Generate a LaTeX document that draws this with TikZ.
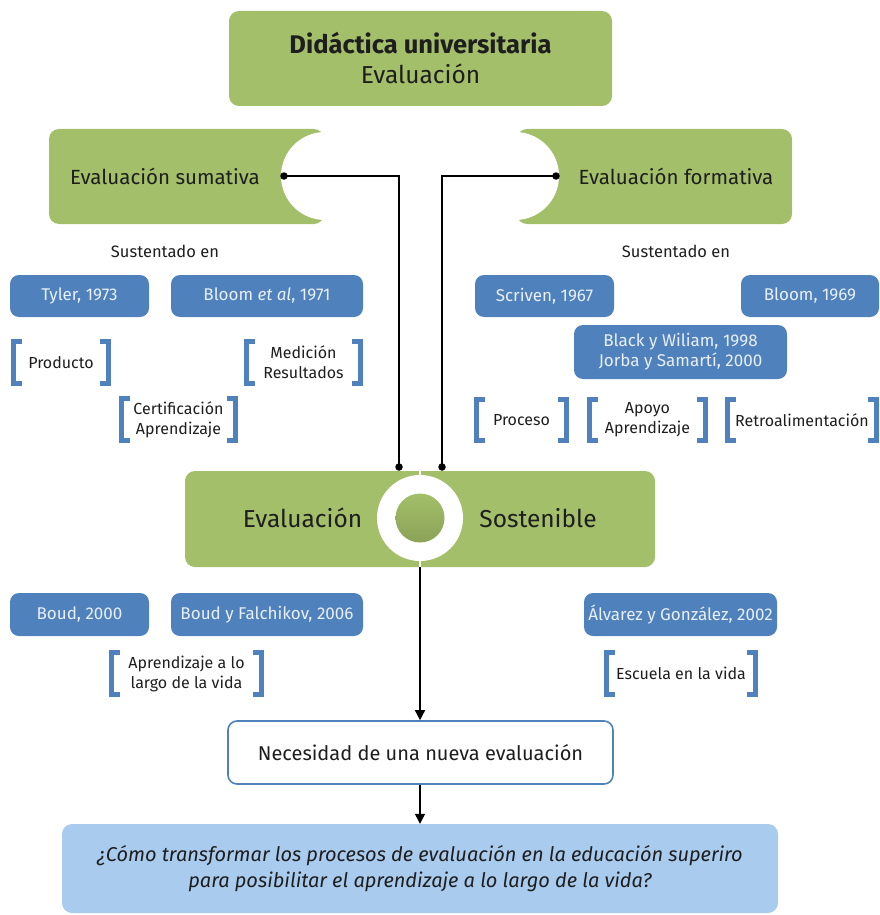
\documentclass[tikz,border=0pt]{standalone}
\usepackage{fontspec}
\setmainfont{Fira Sans}
\usetikzlibrary{arrows.meta}
\definecolor{grn}{HTML}{A3BF69}
\definecolor{dgrn}{HTML}{8BA257}
\definecolor{blu}{HTML}{4F81BD}
\definecolor{lblu}{HTML}{A9CBEE}
\definecolor{txt}{HTML}{1E1E1E}
\definecolor{wtxt}{HTML}{E9EFF7}
\newcommand\mybrk[1]{%
  \draw[brline] ([xshift=8pt]#1.north west) -- (#1.north west) -- (#1.south west) -- ([xshift=8pt]#1.south west);
  \draw[brline] ([xshift=-8pt]#1.north east) -- (#1.north east) -- (#1.south east) -- ([xshift=-8pt]#1.south east);}
\begin{document}
\begin{tikzpicture}[x=1pt,y=-1pt,
  greenbox/.style={fill=grn, rounded corners=10pt, inner sep=0, draw=none},
  bluebox/.style={fill=blu, rounded corners=9pt, text=wtxt, inner sep=0, align=center,
    font=\fontsize{17pt}{20pt}\selectfont, minimum height=42},
  brtext/.style={inner sep=0, align=center, text=txt, font=\fontsize{16pt}{20pt}\selectfont, minimum height=41},
  brline/.style={draw=blu, line width=5pt, line join=miter},
  bigtxt/.style={text=txt, font=\fontsize{20.5pt}{26pt}\selectfont, inner sep=0},
  small/.style={text=txt, font=\fontsize{16.5pt}{20pt}\selectfont, inner sep=0},
  conn/.style={draw=black, line width=1.4pt},
  arr/.style={conn, -{Triangle[length=10pt,width=10pt]}},
  dot/.style={circle, fill=black, inner sep=0, minimum size=7.5pt}
]
\useasboundingbox (0,0) rectangle (880,915);

% top box
\node[greenbox, minimum width=383, minimum height=95, align=center, text=txt,
  font=\fontsize{24.5pt}{30pt}\selectfont] (top) at (420.5,58.5)
  {{\fontsize{25.5pt}{30pt}\selectfont\textbf{Didáctica universitaria}}\\Evaluación};

% sumativa / formativa
\node[greenbox, minimum width=275, minimum height=95] (sumbox) at (186.5,176.5) {};
\fill[white] (325,176) circle (44);
\node[bigtxt] (sumtxt) at (165,176) {Evaluación sumativa};
\node[greenbox, minimum width=275, minimum height=95] (forbox) at (654.5,176.5) {};
\fill[white] (515,176) circle (44);
\node[bigtxt] (fortxt) at (676,176) {Evaluación formativa};

\node[small] (sus1) at (165,251) {Sustentado en};
\node[small] (sus2) at (676,251) {Sustentado en};

% blue references
\node[bluebox, minimum width=139] (tyler) at (79.5,296) {Tyler, 1973};
\node[bluebox, minimum width=192] (bloomal) at (267,296) {Bloom \textit{et al}, 1971};
\node[bluebox, minimum width=139] (scriven) at (544.5,296) {Scriven, 1967};
\node[bluebox, minimum width=138] (bloom69) at (810,296) {Bloom, 1969};
\node[bluebox, minimum width=213, minimum height=54] (black) at (680.5,352) {Black y Wiliam, 1998\\Jorba y Samartí, 2000};
\node[bluebox, minimum width=139, minimum height=43] (boud) at (79.5,614.5) {Boud, 2000};
\node[bluebox, minimum width=192, minimum height=43] (boudf) at (267,614.5) {Boud y Falchikov, 2006};
\node[bluebox, minimum width=193, minimum height=43] (alv) at (680.5,614.5) {Álvarez y González, 2002};

% bracketed concepts
\node[brtext, minimum width=94] (prod) at (61,362.5) {Producto};
\node[brtext, minimum width=113] (med) at (303.5,362.5) {Medición\\Resultados};
\node[brtext, minimum width=113] (cert) at (178.5,419.5) {Certificación\\Aprendizaje};
\node[brtext, minimum width=89] (proc) at (521.5,420) {Proceso};
\node[brtext, minimum width=115] (apoyo) at (647.5,420) {Apoyo\\Aprendizaje};
\node[brtext, minimum width=148] (retro) at (802,420) {Retroalimentación};
\node[brtext, minimum width=149] (aprend) at (186.5,673.5) {Aprendizaje a lo\\largo de la vida};
\node[brtext, minimum width=148] (escuela) at (681,673.5) {Escuela en la vida};
\mybrk{prod}\mybrk{med}\mybrk{cert}\mybrk{proc}\mybrk{apoyo}\mybrk{retro}\mybrk{aprend}\mybrk{escuela}

% sostenible
\node[greenbox, minimum width=470, minimum height=96] (sost) at (420,519) {};
\draw[white, line width=1.2pt] (sost.north) -- (sost.south);
\node[circle, fill=white, inner sep=0, minimum size=86] (ring) at (420,518) {};
\node[circle, inner sep=0, minimum size=49, top color=grn, bottom color=dgrn] (core) at (420,518) {};
\node[bigtxt, font=\fontsize{24.5pt}{28pt}\selectfont] (sostL) at (302.5,518) {Evaluación};
\node[bigtxt, font=\fontsize{24.5pt}{28pt}\selectfont] (sostR) at (538,518) {Sostenible};

% connectors
\coordinate (sumdot) at (284,176);
\coordinate (fordot) at (556,176);
\coordinate (inL) at (399,467);
\coordinate (inR) at (442,467);
\draw[conn] (sumdot) -| (inL);
\draw[conn] (fordot) -| (inR);
\node[dot] at (sumdot) {};
\node[dot] at (fordot) {};
\node[dot] at (inL) {};
\node[dot] at (inR) {};

% necesidad + question
\node[draw=blu, line width=1.6pt, fill=white, rounded corners=9pt, minimum width=385, minimum height=63,
  inner sep=0, text=txt, font=\fontsize{20pt}{24pt}\selectfont] (nec) at (420.5,752.5) {Necesidad de una nueva evaluación};
\node[fill=lblu, rounded corners=10pt, minimum width=716, minimum height=89, inner sep=0, align=center,
  text=txt, font=\fontsize{20pt}{26pt}\selectfont\itshape] (q) at (420,868.5)
  {¿Cómo transformar los procesos de evaluación en la educación superiro\\para posibilitar el aprendizaje a lo largo de la vida?};

\draw[arr] (sost.south) -- (sost.south |- nec.north);
\draw[arr] (sost.south |- nec.south) -- (sost.south |- q.north);
\end{tikzpicture}
\end{document}
